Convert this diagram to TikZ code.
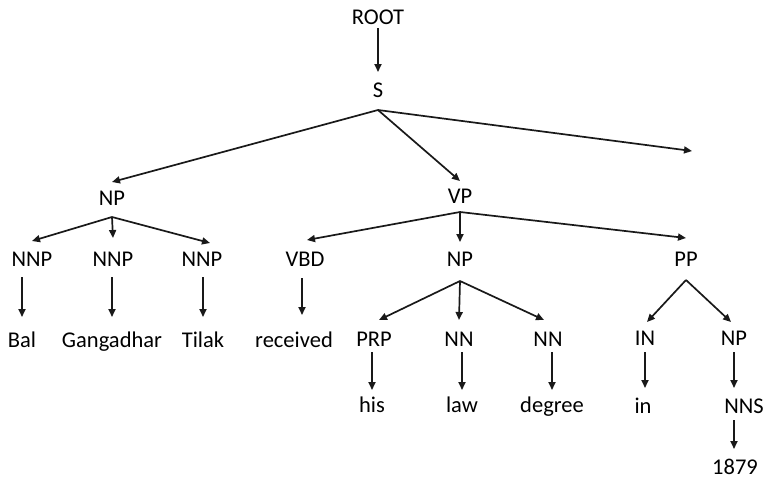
\documentclass[tikz,border=0pt]{standalone}
\usepackage{fontspec}
\setmainfont{Carlito}
\usetikzlibrary{arrows.meta}
\begin{document}
\begin{tikzpicture}[x=1pt,y=-1pt,
  lbl/.style={inner sep=0pt, outer sep=0pt, font=\fontsize{22.5}{27}\selectfont, text height=14.5pt, text depth=0pt},
  arr/.style={-{Triangle[length=8pt,width=7pt]}, line width=1.7pt, black!90}]
\useasboundingbox (0,0) rectangle (763,480);
% nodes
\node[lbl] (root) at (378,17) {ROOT};
\node[lbl] (s) at (378,90) {S};
\node[lbl] (npa) at (112,198) {NP};
\node[lbl] (vp) at (460,196) {VP};
\coordinate (rend) at (692,151);
\node[lbl] (nnp1) at (32,259) {NNP};
\node[lbl] (nnp2) at (113,259) {NNP};
\node[lbl] (nnp3) at (202,259) {NNP};
\node[lbl] (vbd) at (305,259) {VBD};
\node[lbl] (npb) at (460,259) {NP};
\node[lbl] (pp) at (686,259) {PP};
\node[lbl] (bal) at (22,340) {Bal};
\node[lbl] (gang) at (112,340) {Gangadhar};
\node[lbl] (tilak) at (203,340) {Tilak};
\node[lbl] (received) at (294,340) {received};
\node[lbl] (prp) at (374,339) {PRP};
\node[lbl] (nn1) at (459,339) {NN};
\node[lbl] (nn2) at (548,339) {NN};
\node[lbl] (in1) at (645,338) {IN};
\node[lbl] (npc) at (734,338) {NP};
\node[lbl] (his) at (372,405) {his};
\node[lbl] (law) at (462,405) {law};
\node[lbl] (degree) at (552,405) {degree};
\node[lbl] (in2) at (643,406) {in};
\node[lbl] (nns) at (744,406) {NNS};
\node[lbl] (n1879) at (735,467) {1879};
% apex points
\coordinate (sa) at ([yshift=-20pt]s.center);
\coordinate (npaa) at ([yshift=-19pt]npa.center);
\coordinate (vpa) at ([yshift=-16pt]vp.center);
\coordinate (npba) at ([yshift=-22pt]npb.center);
\coordinate (ppa) at ([yshift=-21pt]pp.center);
\coordinate (vbdb) at ([xshift=-3pt,yshift=-19pt]vbd.center);
% connectors
\draw[arr] ([yshift=-11pt]root.center) -- ([yshift=18pt]s.center);
\draw[arr] (sa) -- ([yshift=16pt]npa.center);
\draw[arr] (sa) -- ([yshift=15pt]vp.center);
\draw[arr] (sa) -- (rend);
\draw[arr] (npaa) -- ([yshift=18pt]nnp1.center);
\draw[arr] (npaa) -- ([yshift=21pt]nnp2.center);
\draw[arr] (npaa) -- ([xshift=8pt,yshift=16pt]nnp3.center);
\draw[arr] ([yshift=-18pt]nnp1.center -| bal.center) -- ([yshift=23pt]bal.center);
\draw[arr] ([yshift=-18pt]nnp2.center -| gang.center) -- ([yshift=23pt]gang.center);
\draw[arr] ([yshift=-18pt]nnp3.center -| tilak.center) -- ([yshift=23pt]tilak.center);
\draw[arr] (vbdb) -- ([yshift=25pt]received.center -| vbdb);
\draw[arr] (vpa) -- ([xshift=2pt,yshift=19pt]vbd.center);
\draw[arr] (vpa) -- ([yshift=17pt]npb.center);
\draw[arr] (vpa) -- ([yshift=21pt]pp.center);
\draw[arr] (npba) -- ([xshift=5pt,yshift=19pt]prp.center);
\draw[arr] (npba) -- ([yshift=19pt]nn1.center);
\draw[arr] (npba) -- ([xshift=-4pt,yshift=19pt]nn2.center);
\draw[arr] ([yshift=-13pt]prp.center -| his.center) -- ([yshift=15pt]his.center);
\draw[arr] ([yshift=-13pt]nn1.center -| law.center) -- ([yshift=15pt]law.center);
\draw[arr] ([yshift=-13pt]nn2.center -| degree.center) -- ([yshift=15pt]degree.center);
\draw[arr] (ppa) -- ([xshift=2pt,yshift=16pt]in1.center);
\draw[arr] (ppa) -- ([xshift=-3pt,yshift=16pt]npc.center);
\draw[arr] ([yshift=-14pt]in1.center) -- ([yshift=18pt]in2.center -| in1.center);
\draw[arr] ([yshift=-14pt]npc.center) -- ([yshift=18pt]nns.center -| npc.center);
\draw[arr] ([yshift=-14pt]nns.center -| npc.center) -- ([yshift=18pt]n1879.center -| npc.center);
\end{tikzpicture}
\end{document}
